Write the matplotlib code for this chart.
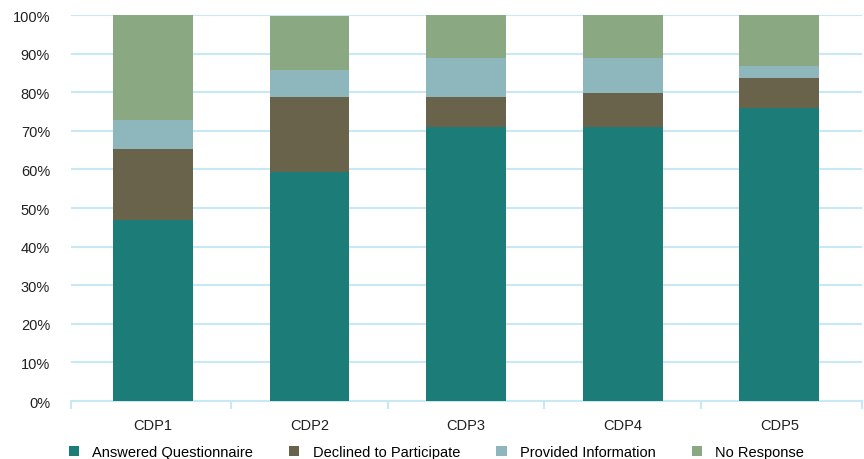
import matplotlib
matplotlib.use('Agg')
import matplotlib.pyplot as plt
import numpy as np

plt.rcParams['font.family'] = ['Liberation Sans', 'DejaVu Sans']

# data (percent of companies)
rounds = ['CDP1', 'CDP2', 'CDP3', 'CDP4', 'CDP5']
answered = [46.9, 59.3, 71.0, 71.0, 75.9]
declined = [18.4, 19.5, 7.8, 8.8, 7.8]
provided = [7.5, 7.0, 10.1, 9.1, 3.1]
no_response = [27.2, 13.9, 11.1, 11.1, 13.2]

series = [
    ('Answered Questionnaire', answered, '#1b7c78'),
    ('Declined to Participate', declined, '#6a634b'),
    ('Provided Information', provided, '#8db7bd'),
    ('No Response', no_response, '#8aa982'),
]

grid_col = '#c8e8f6'

fig = plt.figure(figsize=(8.64, 4.6), dpi=100)
ax = fig.add_axes([0.082, 0.126, 0.916, 0.839])

x = np.arange(len(rounds))
bottom = np.zeros(len(rounds))
for name, vals, col in series:
    ax.bar(x, vals, width=0.51, bottom=bottom, color=col, label=name, zorder=3)
    bottom += np.array(vals)

ax.set_xlim(-0.524, 4.53)
ax.set_ylim(0, 100)
ax.set_yticks(np.arange(0, 101, 10))
ax.set_yticklabels([f'{v}%' for v in range(0, 101, 10)])
ax.yaxis.grid(True, color=grid_col, linewidth=1.5, zorder=0)
ax.tick_params(axis='y', length=0, labelsize=10.5, colors='#222222', pad=15)

# category labels in the middle, ticks on the boundaries
bounds = [-0.524, 0.5, 1.5, 2.5, 3.5, 4.53]
ax.set_xticks(bounds, minor=False)
ax.set_xticklabels([])
ax.set_xticks(x, minor=True)
ax.set_xticklabels(rounds, minor=True)
ax.tick_params(axis='x', which='major', length=6, color=grid_col, width=1.5)
ax.tick_params(axis='x', which='minor', length=0, labelsize=10.5, colors='#222222', pad=12)

for s in ['top', 'right', 'left']:
    ax.spines[s].set_visible(False)
ax.spines['bottom'].set_color(grid_col)
ax.spines['bottom'].set_linewidth(1.5)

fig.legend(loc='lower center', ncol=4, frameon=False, fontsize=10.5,
           bbox_to_anchor=(0.505, -0.028), handlelength=0.7, handleheight=0.7,
           handletextpad=0.9, columnspacing=2.5)

plt.savefig('out.png', dpi=100)
